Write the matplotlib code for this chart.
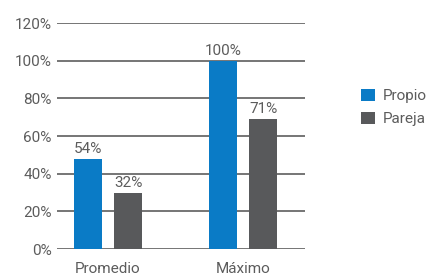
import matplotlib.pyplot as plt
import numpy as np

categories = ['Promedio', 'Máximo']
series_names = ['Propio', 'Pareja']
# bar heights as drawn in the picture, and the value labels printed above them
propio_vals = [48, 100]
pareja_vals = [30, 69]
propio_labels = ['54%', '100%']
pareja_labels = ['32%', '71%']
y_ticks = [0, 20, 40, 60, 80, 100, 120]

blue = '#0a7bc6'
gray = '#58595b'
text_col = '#5c5c5c'
grid_col = '#5e5e5e'

plt.rcParams['font.family'] = ['Roboto', 'DejaVu Sans']

fig = plt.figure(figsize=(4.28, 2.75), dpi=100)
ax = fig.add_axes([0.1332, 0.0945, 0.5794, 0.8218])

x = np.arange(len(categories))
w = 0.207
off = 0.148
b1 = ax.bar(x - off, propio_vals, w, color=blue, label=series_names[0], zorder=3)
b2 = ax.bar(x + off, pareja_vals, w, color=gray, label=series_names[1], zorder=3)

for bars, labels in [(b1, propio_labels), (b2, pareja_labels)]:
    for rect, lab in zip(bars, labels):
        ax.annotate(lab, (rect.get_x() + rect.get_width() / 2, rect.get_height()),
                    xytext=(0, 2), textcoords='offset points', ha='center', va='bottom',
                    fontsize=11, color=text_col)

ax.set_ylim(0, 120)
ax.set_xlim(-0.378, 1.459)
ax.set_yticks(y_ticks)
ax.set_yticklabels([f'{t}%' for t in y_ticks])
ax.set_xticks(x)
ax.set_xticklabels(categories)
ax.yaxis.grid(True, color=grid_col, linewidth=1.2, zorder=0)
ax.set_axisbelow(True)
for s in ax.spines.values():
    s.set_visible(False)
ax.tick_params(axis='y', length=0, pad=4, labelsize=11, labelcolor=text_col)
ax.tick_params(axis='x', length=0, pad=9, labelsize=11, labelcolor=text_col)

leg = fig.legend(handles=[b1, b2], loc='upper left', bbox_to_anchor=(0.83, 0.70),
                 frameon=False, fontsize=11, handlelength=0.9, handleheight=0.9,
                 handletextpad=0.5, labelspacing=0.55, borderaxespad=0)
for t in leg.get_texts():
    t.set_color(text_col)

fig.savefig('out.png', dpi=100)
